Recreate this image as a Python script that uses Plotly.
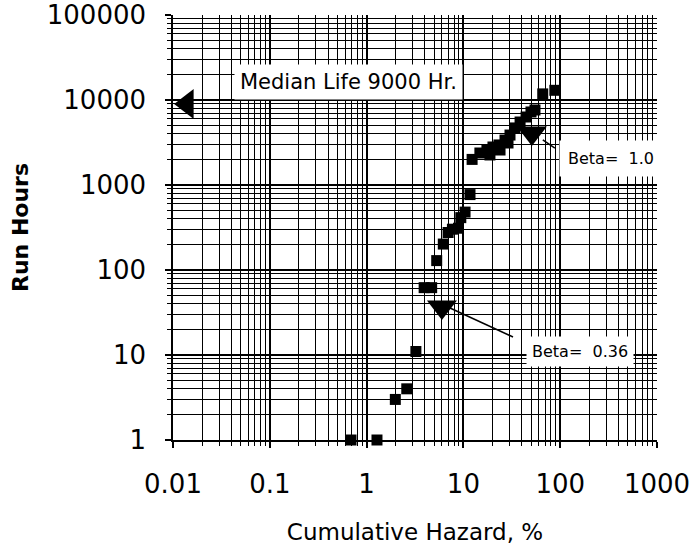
import plotly.graph_objects as go

# Data
hazard_pct = [0.69, 1.28, 1.98, 2.6, 3.23, 3.93, 4.7, 5.3, 6.2, 6.95, 7.7, 8.9, 9.4, 10.4, 11.7, 12.3,
              14.8, 17.5, 18.8, 20.2, 23.3, 23.9, 26.9, 28.9, 30.3, 34.1, 38.5, 44.4, 49.9, 54.9,
              66.0, 88.0]
run_hours = [1, 1, 3, 4, 11, 62, 62, 129, 202, 276, 302, 310, 413, 480, 771, 2000,
             2380, 2580, 2255, 2800, 2960, 2580, 3380, 3120, 3870, 4690, 5510, 6310, 7230, 7630,
             11800, 13000]

median_life = 9000
median_marker_x = [0.014]
beta1_x = [51]
beta1_y = [4090]
beta036_x = [6.0]
beta036_y = [36.7]

FONT = "DejaVu Sans"

fig = go.Figure()

fig.add_trace(go.Scatter(
    x=hazard_pct, y=run_hours, mode="markers",
    marker=dict(symbol="square", size=11, color="black"),
    cliponaxis=False, showlegend=False))

fig.add_trace(go.Scatter(
    x=median_marker_x, y=[median_life], mode="markers",
    marker=dict(symbol="triangle-left", size=26, color="black"),
    cliponaxis=False, showlegend=False))

fig.add_trace(go.Scatter(
    x=beta1_x + beta036_x, y=beta1_y + beta036_y, mode="markers",
    marker=dict(symbol="triangle-down", size=26, color="black"),
    showlegend=False))

axis_common = dict(
    type="log",
    automargin=False,
    showline=True, linecolor="black", linewidth=1.5, mirror=False,
    showgrid=True, gridcolor="black", gridwidth=1.8,
    tickmode="linear", dtick=1, tickformat="~g",
    ticks="outside", ticklen=6, tickcolor="black", tickwidth=1.5,
    ticklabeloverflow="allow",
    minor=dict(dtick="D1", showgrid=True, gridcolor="black", gridwidth=1.4,
               ticks="outside", ticklen=4, tickcolor="black", tickwidth=1),
    zeroline=False,
    tickfont=dict(family=FONT, size=26, color="black"),
)

fig.update_xaxes(
    **axis_common,
    range=[-2, 3],
    ticklabelstandoff=14,
    title=dict(text="Cumulative Hazard, %", font=dict(family=FONT, size=23, color="black"), standoff=26),
)
fig.update_yaxes(
    **axis_common,
    range=[0, 5],
    ticklabelstandoff=14,
    title=dict(text="<b>Run Hours</b>", font=dict(family=FONT, size=22, color="black"), standoff=12),
)

fig.update_layout(
    width=690, height=552,
    margin=dict(l=173, r=33, t=15, b=112),
    paper_bgcolor="white", plot_bgcolor="white",
    annotations=[
        dict(text="Median Life 9000 Hr.", xref="paper", yref="paper", x=0.3616, y=0.842,
             xanchor="center", yanchor="middle",
             showarrow=False, bgcolor="white", borderpad=5,
             font=dict(family=FONT, size=21, color="black")),
        dict(text="Beta=  1.0", xref="paper", yref="paper", x=0.905, y=0.6635,
             xanchor="center", yanchor="middle",
             showarrow=False, bgcolor="white", borderpad=8,
             font=dict(family=FONT, size=16, color="black")),
        dict(text="Beta=  0.36", xref="paper", yref="paper", x=0.841, y=0.209,
             xanchor="center", yanchor="middle",
             showarrow=False, bgcolor="white", borderpad=5,
             font=dict(family=FONT, size=16, color="black")),
    ],
    shapes=[
        dict(type="line", xref="paper", yref="paper", x0=0.7025, y0=0.2424, x1=0.5723, y1=0.3106,
             line=dict(color="black", width=1.5)),
        dict(type="line", xref="paper", yref="paper", x0=0.789, y0=0.687, x1=0.764, y1=0.706,
             line=dict(color="black", width=1.5)),
    ],
)

fig.write_html("out.html", config={"displayModeBar": False},
               post_script="document.body.style.margin='0';")
